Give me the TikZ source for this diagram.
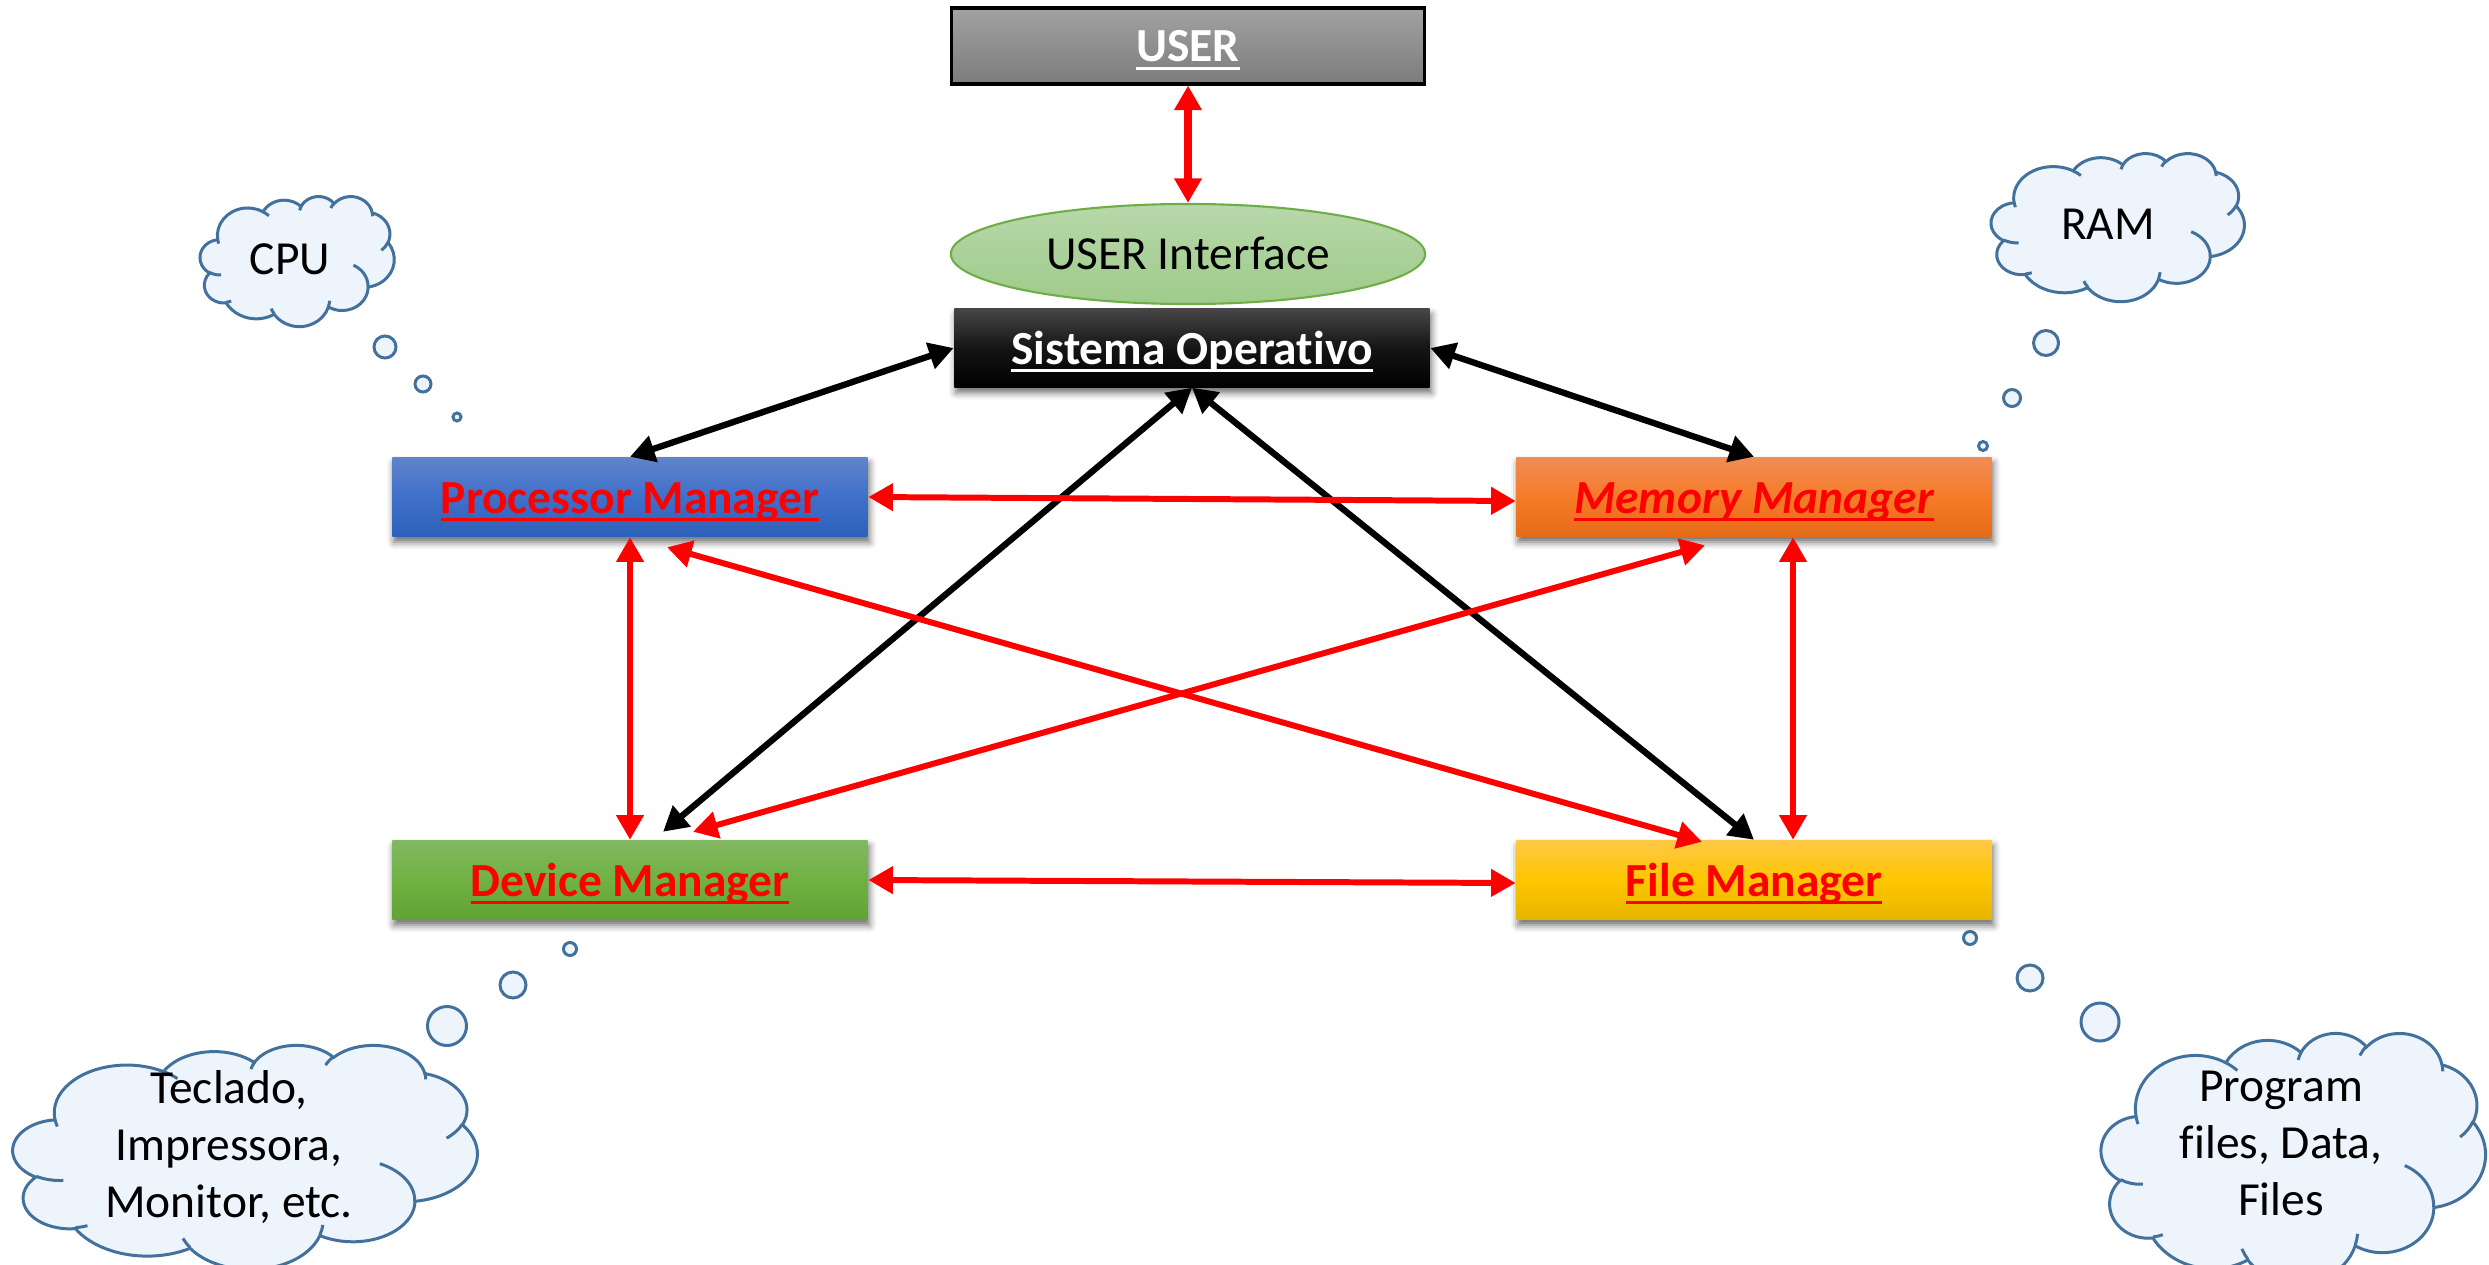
\documentclass[tikz,border=0pt]{standalone}
\usepackage{fontspec}
\setmainfont{Carlito}[Ligatures=NoCommon]
\usetikzlibrary{arrows.meta,shapes.geometric,shadows.blur}

% colours
\definecolor{usertop}{RGB}{162,162,162}
\definecolor{userbot}{RGB}{124,124,124}
\definecolor{uitop}{RGB}{184,216,170}
\definecolor{uibot}{RGB}{158,203,138}
\definecolor{uiline}{RGB}{112,173,71}
\definecolor{sotop}{RGB}{70,70,70}
\definecolor{pmtop}{RGB}{97,131,203}
\definecolor{pmmid}{RGB}{62,112,202}
\definecolor{pmbot}{RGB}{46,97,186}
\definecolor{mmtop}{RGB}{241,140,85}
\definecolor{mmmid}{RGB}{246,123,40}
\definecolor{mmbot}{RGB}{229,107,23}
\definecolor{dmtop}{RGB}{129,184,97}
\definecolor{dmmid}{RGB}{111,178,66}
\definecolor{dmbot}{RGB}{97,162,53}
\definecolor{fmtop}{RGB}{255,199,70}
\definecolor{fmmid}{RGB}{255,198,0}
\definecolor{fmbot}{RGB}{229,182,0}
\definecolor{cloudline}{RGB}{65,113,156}
\definecolor{cloudfill}{RGB}{237,244,251}

% underline at a fixed depth below the baseline
\newcommand\ulx[1]{\setbox0\hbox{#1}\rlap{\rule[-2.2pt]{\wd0}{0.8pt}}\box0}

% elliptical arc given by radii and visual start/sweep angles
\newcommand\defarc[5]{%
  \pgfmathsetmacro\arcta{atan2((#2)*sin(#4),(#3)*cos(#4))}%
  \pgfmathsetmacro\arctb{atan2((#2)*sin((#4)+(#5)),(#3)*cos((#4)+(#5)))}%
  \pgfmathsetmacro\arcd{\arctb-\arcta}%
  \pgfmathsetmacro\arcd{\arcd-360*round((\arcd-(#5))/360)}%
  \pgfmathsetmacro\arctb{\arcta+\arcd}%
  \expandafter\xdef\csname cloudarc#1\endcsname{arc[start angle=\arcta, end angle=\arctb, x radius=#2, y radius=#3]}%
}
\newcommand\carc[1]{\csname cloudarc#1\endcsname}

% outline of the cloud, in a 43.2 x 43.2 box
\defarc{A}{6.753}{9.190}{-190.48748}{123.78053}
\defarc{B}{5.333}{7.267}{-144.10238}{89.94523}
\defarc{C}{4.365}{5.945}{-145.80792}{99.72302}
\defarc{D}{4.857}{6.595}{-130.98607}{117.24173}
\defarc{E}{5.333}{7.273}{-78.70888}{109.02692}
\defarc{F}{6.775}{9.220}{-46.26725}{130.269}
\defarc{G}{5.785}{7.867}{0.62502}{114.03333}
\defarc{H}{6.752}{9.215}{22.4516}{115.17255}
\defarc{I}{7.720}{10.543}{66.24263}{75.71102}
\defarc{J}{4.360}{5.918}{-274.94208}{146.73557}
\defarc{K}{4.345}{5.945}{-246.8285}{152.51885}
% inner creases
\defarc{a}{4.345}{5.945}{86.742}{26.4295}
\defarc{b}{4.360}{5.918}{73.61047}{11.44747}
\defarc{c}{6.752}{9.215}{137.62415}{14.0811}
\defarc{d}{6.752}{9.215}{6.45327}{15.99835}
\defarc{e}{5.785}{7.867}{-70.29235}{70.91737}
\defarc{f}{5.333}{7.273}{30.31803}{27.7515}
\defarc{g}{4.857}{6.595}{-13.74433}{14.8589}
\defarc{h}{4.857}{6.595}{-149.18145}{18.19537}
\defarc{i}{4.365}{5.945}{-163.49427}{17.68635}
\defarc{j}{6.753}{9.190}{-66.70695}{12.31935}
\defarc{k}{6.753}{9.190}{157.65435}{11.85817}

\newcommand\drawcloud{%
  \path[thought] (3.9,14.37) \carc{A} \carc{B} \carc{C} \carc{D} \carc{E} \carc{F}
    \carc{G} \carc{H} \carc{I} \carc{J} \carc{K} -- cycle;
  \draw[thought, fill=none]
    (4.693,26.177) \carc{a}  (6.928,34.899) \carc{b}  (16.478,39.09) \carc{c}
    (28.827,34.751) \carc{d} (34.129,22.954) \carc{e} (41.798,15.354) \carc{f}
    (38.324,5.426) \carc{g}  (29.078,3.952) \carc{h}  (22.141,4.72) \carc{i}
    (14.0,5.192) \carc{j}    (4.127,15.789) \carc{k};
}

\begin{document}
\begin{tikzpicture}[x=0.01cm,y=-0.01cm,
  txt/.style={font=\fontsize{13.5}{16.2}\selectfont},
  boxtext/.style={text height=10pt, text depth=0.9pt},
  boxshadow/.style={blur shadow={shadow xshift=0.5pt, shadow yshift=-1.6pt,
      shadow blur radius=2pt, shadow opacity=60}},
  mgr/.style={rectangle, minimum width=4.75cm, minimum height=0.79cm, inner sep=0pt,
      text=red, font=\fontsize{13.5}{16.2}\selectfont\bfseries, boxtext, boxshadow},
  userbox/.style={rectangle, draw=black, line width=0.9pt, minimum width=4.72cm,
      minimum height=0.76cm, inner sep=0pt, top color=usertop, bottom color=userbot,
      text=white, font=\fontsize{13.5}{16.2}\selectfont\bfseries, boxtext},
  uibox/.style={ellipse, draw=uiline, line width=0.6pt, minimum width=4.74cm,
      minimum height=1.0cm, inner sep=0pt, top color=uitop, bottom color=uibot, txt,
      text height=9.8pt, text depth=0.9pt},
  sobox/.style={rectangle, minimum width=4.75cm, minimum height=0.78cm, inner sep=0pt,
      top color=sotop, bottom color=black, middle color=black!92,
      text=white, font=\fontsize{13.5}{16.2}\selectfont\bfseries, boxtext, boxshadow},
  tipr/.tip={Triangle[length=7pt, width=7.5pt]},
  redarr/.style={draw=red, line width=1.7pt, tipr-tipr},
  blackarr/.style={draw=black, line width=1.8pt, tipr-tipr},
  thought/.style={draw=cloudline, fill=cloudfill, line width=0.85pt},
  cloudtext/.style={txt, align=center, text=black, inner sep=0pt},
]
\useasboundingbox (0,0) rectangle (2489,1264);

% ---- thought clouds ----
\begin{scope}[shift={(2.00cm,-1.96cm)}, x=0.04491cm, y=-0.03009cm]
  \drawcloud
\end{scope}
\draw[thought] (385,347) circle[radius=11];
\draw[thought] (423,384) circle[radius=8];
\draw[thought] (457,417) circle[radius=4];
\node[cloudtext] (cpu) at (290,259) {CPU};

\begin{scope}[shift={(19.90cm,-1.53cm)}, x=0.05856cm, y=-0.03426cm]
  \drawcloud
\end{scope}
\draw[thought] (2046,343) circle[radius=12.5];
\draw[thought] (2012,398) circle[radius=8.5];
\draw[thought] (1983,446) circle[radius=4.5];
\node[cloudtext] (ram) at (2108,224) {RAM};

\begin{scope}[shift={(0.13cm,-10.44cm)}, x=0.10741cm, y=-0.05185cm]
  \drawcloud
\end{scope}
\draw[thought] (447,1026) circle[radius=19.5];
\draw[thought] (513,985) circle[radius=13];
\draw[thought] (570,949) circle[radius=6.5];
\node[cloudtext] (dev) at (229,1147) {Teclado,\\Impressora,\\Monitor, etc.};

\begin{scope}[shift={(21.00cm,-10.32cm)}, x=0.08889cm, y=-0.05787cm]
  \drawcloud
\end{scope}
\draw[thought] (1970,938) circle[radius=6.5];
\draw[thought] (2030,978) circle[radius=13];
\draw[thought] (2100,1022) circle[radius=19];
\node[cloudtext] (files) at (2281,1143) {Program\\files, Data,\hspace*{7pt}\\Files};

% ---- blocks ----
\node[userbox] (user) at (1188,46) {\ulx{USER}};
\node[uibox] (ui) at (1188,254) {USER Interface};
\node[sobox] (so) at (1192,348) {\ulx{Sistema Operativo}};
\node[mgr, top color=pmtop, bottom color=pmbot, middle color=pmmid] (pm) at (630,497) {\ulx{Processor Manager}};
\node[mgr, top color=mmtop, bottom color=mmbot, middle color=mmmid] (mm) at (1754,497) {\ulx{\itshape Memory Manager}};
\node[mgr, top color=dmtop, bottom color=dmbot, middle color=dmmid] (dm) at (630,880) {\ulx{Device Manager}};
\node[mgr, top color=fmtop, bottom color=fmbot, middle color=fmmid] (fm) at (1754,880) {\ulx{File Manager}};

% ---- connectors ----
\draw[draw=red, line width=2.3pt, {Triangle[length=7pt,width=7.5pt]}-{Triangle[length=7pt,width=7.5pt]}]
  (user.south) -- (ui.north);

\draw[blackarr] (so.west) -- (pm.north);
\draw[blackarr] (so.east) -- (mm.north);
\draw[blackarr] (so.south) -- ([xshift=0.33cm,yshift=0.08cm]dm.north);
\draw[blackarr] (so.south) -- (fm.north);

\draw[redarr] (pm.east) -- ([yshift=-0.04cm]mm.west);
\draw[redarr] (pm.south) -- (dm.north);
\draw[redarr] ([xshift=0.39cm]mm.south) -- ([xshift=0.39cm]fm.north);
\draw[redarr] (dm.east) -- ([yshift=-0.03cm]fm.west);
\draw[redarr] ([xshift=0.37cm,yshift=-0.10cm]pm.south) -- ([xshift=-0.52cm,yshift=-0.02cm]fm.north);
\draw[redarr] ([xshift=-0.49cm,yshift=-0.08cm]mm.south) -- ([xshift=0.63cm,yshift=0.08cm]dm.north);
\end{tikzpicture}
\end{document}
